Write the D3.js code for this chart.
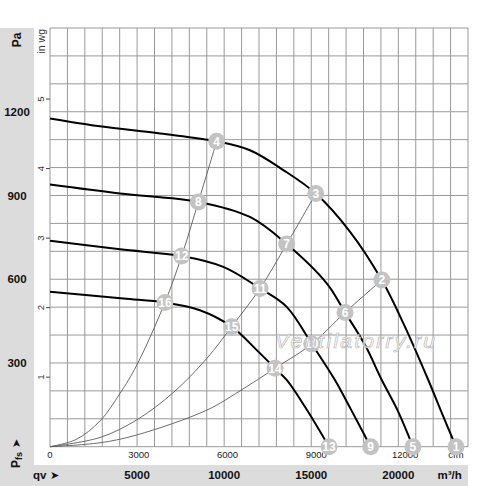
<!DOCTYPE html>
<html>
<head>
<meta charset="utf-8">
<script src="https://cdn.jsdelivr.net/npm/d3@7"></script>
<style>
  body { margin: 0; background: #fff; }
  svg { display: block; font-family: "Liberation Sans", Arial, sans-serif; }
</style>
</head>
<body>
<div id="chart"></div>
<script>
// fan curves, [m3/h, Pa]
var fan1 = [[0,1176],[2870,1148],[6320,1122],[9570,1094],[11480,1062],[13400,991],[15260,907],[17230,770],[19050,597],[20290,442],[21720,239],[22430,131],[23310,0]];
var fan2 = [[0,939],[4020,907],[8520,877],[11480,823],[13590,726],[15890,585],[16940,481],[18090,364],[19050,239],[19950,131],[20840,0]];
var fan3 = [[0,738],[4020,707],[7560,683],[9950,644],[12060,567],[13590,501],[15030,368],[16360,239],[17300,131],[18410,0]];
var fan4 = [[0,555],[4210,531],[6600,517],[8610,489],[10430,430],[11870,346],[12920,281],[13590,239],[14640,143],[16020,0]];

// system curves (thin grey)
var sysA = [[0,0],[1500,26],[2870,92],[4020,191],[4980,292],[6600,517],[7560,683],[8520,877],[9570,1094]];
var sysB = [[0,0],[2870,33],[4980,96],[7080,194],[9000,316],[10430,430],[12060,567],[13590,726],[15260,907]];
var sysC = [[0,0],[2870,14],[4980,42],[9000,131],[10910,200],[12920,281],[15030,368],[16940,481],[19050,597]];

// numbered operating points
var markerNo = [1,2,3,4,5,6,7,8,9,10,11,12,13,14,15,16];
var markerQ  = [23310,19050,15260,9570,20840,16940,13590,8520,18410,15030,12060,7560,16020,12920,10430,6600];
var markerP  = [0,597,907,1094,0,481,726,877,0,368,567,683,0,281,430,517];

// tick labels
var paTicks   = [300,600,900,1200];
var inwgTicks = [1,2,3,4,5];
var m3hTicks  = [5000,10000,15000,20000];
var cfmTicks  = [0,3000,6000,9000,12000];

function init() {
    var w = 500, h = 486;

    var svg = d3.select("#chart").append("svg")
        .attr("width", w)
        .attr("height", h);

    var xScale = d3.scaleLinear().domain([0, 24000]).range([50, 468]);
    var yScale = d3.scaleLinear().domain([0, 1500]).range([446.7, 28]);

    //grey bands for the outer labels
    svg.append("rect").attr("x", 0).attr("y", 28).attr("width", 34).attr("height", h - 28).attr("fill", "#dcdcdc");
    svg.append("rect").attr("x", 0).attr("y", 465).attr("width", 468).attr("height", h - 465).attr("fill", "#dcdcdc");

    //grid every 1000 m3/h and every 100 Pa
    var grid = svg.append("g").attr("stroke", "#999").attr("stroke-width", 1);
    grid.selectAll("line.v")
        .data(d3.range(0, 24001, 1000))
        .enter().append("line")
        .attr("class", "v")
        .attr("x1", d => xScale(d)).attr("x2", d => xScale(d))
        .attr("y1", yScale(0)).attr("y2", yScale(1500));
    grid.selectAll("line.h")
        .data(d3.range(0, 1501, 100))
        .enter().append("line")
        .attr("class", "h")
        .attr("x1", xScale(0)).attr("x2", xScale(24000))
        .attr("y1", d => yScale(d)).attr("y2", d => yScale(d));

    var line = d3.line()
        .x(d => xScale(d[0]))
        .y(d => yScale(d[1]))
        .curve(d3.curveCatmullRom.alpha(0.5));

    svg.selectAll("path.sys")
        .data([sysA, sysB, sysC])
        .enter().append("path")
        .attr("class", "sys")
        .attr("d", line)
        .attr("fill", "none")
        .attr("stroke", "#5a5a5a")
        .attr("stroke-width", 0.9);

    svg.selectAll("path.fan")
        .data([fan1, fan2, fan3, fan4])
        .enter().append("path")
        .attr("class", "fan")
        .attr("d", line)
        .attr("fill", "none")
        .attr("stroke", "#000")
        .attr("stroke-width", 2);

    //cfm axis just under the plot
    var cfm = 1.69901;
    svg.selectAll("text.cfm")
        .data(cfmTicks)
        .enter().append("text")
        .attr("class", "cfm")
        .attr("x", d => xScale(d * cfm))
        .attr("y", 458)
        .attr("text-anchor", "middle")
        .attr("font-size", "9.5px")
        .attr("fill", "#222")
        .text(d => d);
    svg.append("text")
        .attr("x", xScale(23310)).attr("y", 458)
        .attr("text-anchor", "middle")
        .attr("font-size", "9.5px")
        .attr("fill", "#222")
        .text("cfm");

    //in wg axis, rotated
    var inwg = 249.089;
    svg.selectAll("line.inwg")
        .data(inwgTicks)
        .enter().append("line")
        .attr("class", "inwg")
        .attr("x1", 46).attr("x2", 50)
        .attr("y1", d => yScale(d * inwg)).attr("y2", d => yScale(d * inwg))
        .attr("stroke", "#444");
    svg.selectAll("text.inwg")
        .data(inwgTicks)
        .enter().append("text")
        .attr("class", "inwg")
        .attr("transform", d => "translate(44," + yScale(d * inwg) + ") rotate(-90)")
        .attr("text-anchor", "middle")
        .attr("font-size", "9.5px")
        .attr("fill", "#333")
        .text(d => d);
    svg.append("text")
        .attr("transform", "translate(45,29) rotate(-90)")
        .attr("text-anchor", "end")
        .attr("font-size", "10.5px")
        .attr("fill", "#333")
        .text("in wg");

    //markers
    var mk = svg.selectAll("g.mk")
        .data(markerNo)
        .enter().append("g")
        .attr("class", "mk")
        .attr("transform", (d, i) => "translate(" + xScale(markerQ[i]) + "," + yScale(markerP[i]) + ")");
    mk.append("circle").attr("r", 8.5).attr("fill", "#c3c3c3");
    mk.append("text")
        .attr("y", 4.3)
        .attr("text-anchor", "middle")
        .attr("font-size", "12px")
        .attr("font-weight", "bold")
        .attr("fill", "#fff")
        .text(d => d);

    //Pa labels in the left band
    svg.selectAll("text.pa")
        .data(paTicks)
        .enter().append("text")
        .attr("class", "pa")
        .attr("x", 17)
        .attr("y", d => yScale(d) + 4.2)
        .attr("text-anchor", "middle")
        .attr("font-size", "11.5px")
        .attr("font-weight", "bold")
        .attr("fill", "#111")
        .text(d => d);
    svg.append("text")
        .attr("transform", "translate(20.5,40) rotate(-90)")
        .attr("text-anchor", "middle")
        .attr("font-size", "12px")
        .attr("font-weight", "bold")
        .attr("fill", "#111")
        .text("Pa");

    var pfs = svg.append("text")
        .attr("transform", "translate(19.5,468) rotate(-90)")
        .attr("font-size", "12px")
        .attr("font-weight", "bold")
        .attr("fill", "#111");
    pfs.append("tspan").text("P");
    pfs.append("tspan").attr("dy", 2.5).attr("font-size", "9px").text("fs");
    svg.append("text")
        .attr("transform", "translate(19.5,448) rotate(-90)")
        .attr("font-size", "11px")
        .attr("font-family", "DejaVu Sans")
        .attr("fill", "#111")
        .text("➤");

    //m3/h labels in the bottom band
    svg.selectAll("text.m3h")
        .data(m3hTicks)
        .enter().append("text")
        .attr("class", "m3h")
        .attr("x", d => xScale(d))
        .attr("y", 479)
        .attr("text-anchor", "middle")
        .attr("font-size", "11.5px")
        .attr("font-weight", "bold")
        .attr("fill", "#111")
        .text(d => d);
    svg.append("text")
        .attr("x", 33).attr("y", 479)
        .attr("font-size", "11.5px")
        .attr("font-weight", "bold")
        .attr("fill", "#111")
        .text("qv");
    svg.append("text")
        .attr("x", 50).attr("y", 479)
        .attr("font-size", "11px")
        .attr("font-family", "DejaVu Sans")
        .attr("fill", "#111")
        .text("➤");
    svg.append("text")
        .attr("x", 437.5).attr("y", 479)
        .attr("font-size", "11.5px")
        .attr("font-weight", "bold")
        .attr("fill", "#111")
        .text("m³/h");

    //watermark
    svg.append("text")
        .attr("x", 275).attr("y", 348)
        .attr("font-size", "21px")
        .attr("font-style", "italic")
        .attr("textLength", 160)
        .attr("fill", "#fff")
        .attr("fill-opacity", 0.75)
        .attr("stroke", "#b8b8b8")
        .attr("stroke-width", 0.7)
        .text("Ventilatorry.ru");
}

window.onload = init;
</script>
</body>
</html>
